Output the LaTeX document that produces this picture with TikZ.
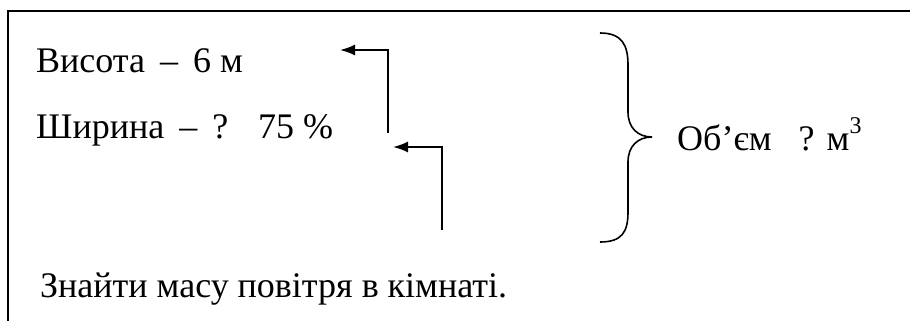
\documentclass[tikz,border=0pt]{standalone}
\usepackage{fontspec}
\newfontfamily\tnr{Liberation Serif}
\usetikzlibrary{arrows.meta}
\newcommand{\supthree}{\raisebox{0.45em}{\fontsize{24}{26}\selectfont 3}}
\begin{document}
\begin{tikzpicture}[x=1pt,y=-1pt,
  txt/.style={anchor=base west,inner sep=0pt,font=\tnr\fontsize{36}{40}\selectfont},
  frameline/.style={line width=2.4pt},
  conn/.style={line width=1.8pt,-{Latex[length=15pt,width=11pt]}},
  bracepath/.style={line width=1.6pt}]
\useasboundingbox (0,0) rectangle (910,321);
% open frame: top and left sides
\draw[frameline] (910,11) -- (8,11) -- (8,321);
% given data
\node[txt] (h) at (36,72) {Висота \,–\, 6 м};
\node[txt] (w) at (36,138) {Ширина \,–\, ? \ \ 75 \%};
% elbow arrows
\coordinate (a1s) at (388,133);
\coordinate (a1c) at (388,50);
\coordinate (a1e) at (340,50);
\draw[conn] (a1s) -- (a1c) -- (a1e);
\coordinate (a2s) at (442,230);
\coordinate (a2c) at (442,147);
\coordinate (a2e) at (393,147);
\draw[conn] (a2s) -- (a2c) -- (a2e);
% right brace
\draw[bracepath] (600,33) .. controls (622,33) and (628,45) .. (628,65)
  -- (628,112) .. controls (628,128) and (638,137) .. (652,137)
  .. controls (638,137) and (628,146) .. (628,162)
  -- (628,212) .. controls (628,232) and (622,242) .. (600,242);
\node[txt] (v) at (677,150) {Об’єм \ \ ? м\supthree};
% question
\node[txt] (q) at (40,297) {Знайти масу повітря в кімнаті.};
\end{tikzpicture}
\end{document}
